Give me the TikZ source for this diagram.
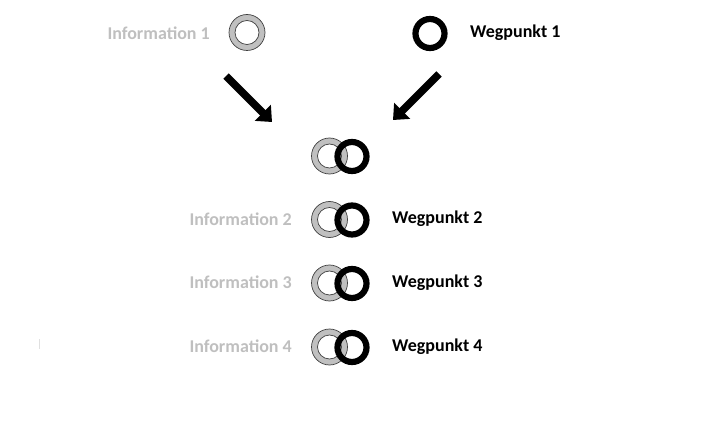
\documentclass[tikz,border=0pt]{standalone}
\usepackage{fontspec}
\setmainfont{Carlito}
\usetikzlibrary{arrows.meta}
\definecolor{infogray}{HTML}{BFBFBF}
\definecolor{ringgray}{HTML}{C0C0C0}
\tikzset{
  infotext/.style={font=\fontsize{18}{20}\selectfont\bfseries, text=infogray, anchor=east, inner sep=0pt},
  wegtext/.style={font=\fontsize{18}{20}\selectfont\bfseries, text=black, anchor=west, inner sep=0pt},
  blackring/.style={circle, minimum size=29pt, draw=black, line width=6.2pt, inner sep=0pt},
  grayspot/.style={circle, minimum size=36pt, inner sep=0pt},
  bigarrow/.style={line width=7.5pt, -{Triangle[length=13pt,width=22pt]}}
}
\newcommand{\grayringat}[2]{%
  \draw[ringgray, line width=6pt] (#1,#2) circle (15);
  \draw[black!75, line width=0.7pt] (#1,#2) circle (18);
  \draw[black!75, line width=0.7pt] (#1,#2) circle (12);
}
\begin{document}
\begin{tikzpicture}[x=1pt,y=-1pt]
\useasboundingbox (0,0) rectangle (718,425);
% top row
\grayringat{247}{32.5}
\node[grayspot] (g1) at (247,32.5) {};
\node[blackring] (b1) at (430,33.5) {};
\node[infotext] (i1) at (210,33) {Information 1};
\node[wegtext] (w1) at (470,33) {Wegpunkt 1};
% arrows
\coordinate (a1s) at (226,76);
\coordinate (a1e) at (272,122);
\coordinate (a2s) at (439,74);
\coordinate (a2e) at (393,120);
\draw[bigarrow] (a1s) -- (a1e);
\draw[bigarrow] (a2s) -- (a2e);
% overlapping rings
\foreach \yy/\nm in {156/m0,219.5/m2,283/m3,347/m4}{
  \grayringat{329.5}{\yy}
  \node[blackring] (\nm) at (352,\yy+0.5) {};
}
\node[infotext] (i2) at (292,219) {Information 2};
\node[wegtext] (w2) at (392,219) {Wegpunkt 2};
\node[infotext] (i3) at (292,282.5) {Information 3};
\node[wegtext] (w3) at (392,282.5) {Wegpunkt 3};
\node[infotext] (i4) at (292,346.5) {Information 4};
\node[wegtext] (w4) at (392,346.5) {Wegpunkt 4};
% faint mark
\draw[black!12, line width=0.8pt] (39.5,339) -- (39.5,349);
\end{tikzpicture}
\end{document}
